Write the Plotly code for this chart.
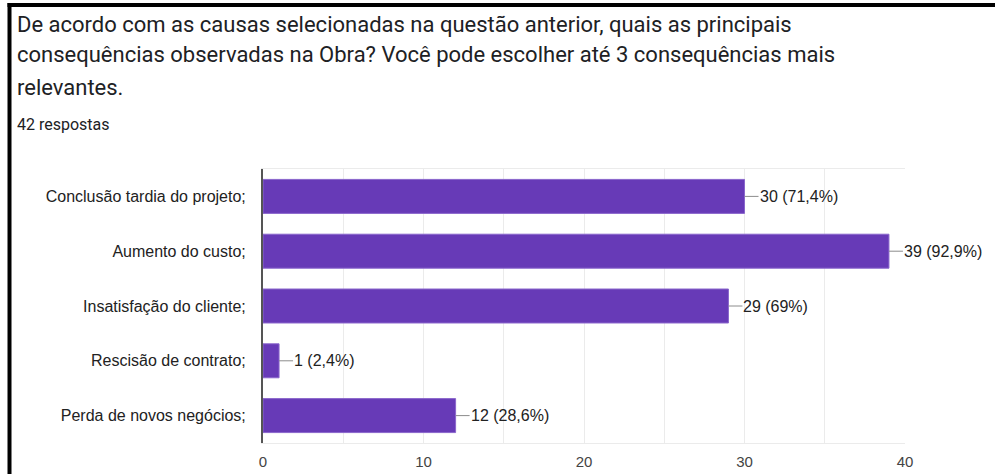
import plotly.graph_objects as go

categories = [
    "Conclusão tardia do projeto;",
    "Aumento do custo;",
    "Insatisfação do cliente;",
    "Rescisão de contrato;",
    "Perda de novos negócios;",
]
counts = [30, 39, 29, 1, 12]
pct_labels = ["71,4%", "92,9%", "69%", "2,4%", "28,6%"]
x_ticks = [0, 10, 20, 30, 40]

title_lines = [
    "De acordo com as causas selecionadas na questão anterior, quais as principais",
    "consequências observadas na Obra? Você pode escolher até 3 consequências mais",
    "relevantes.",
]
subtitle = "42 respostas"

W, H = 995, 474
L, R, T, B = 263, 905, 169, 443  # plot area in pixels


def px(xp):
    return (xp - L) / (R - L)


def py(yp):
    return (B - yp) / (B - T)


fig = go.Figure()
fig.add_trace(go.Bar(
    x=counts, y=categories, orientation="h",
    marker=dict(color="#673ab7", line=dict(color="#8a66cc", width=1)),
    hoverinfo="skip",
))

for c, v, p in zip(categories, counts, pct_labels):
    fig.add_annotation(
        x=v, y=c, xref="x", yref="y",
        text=f"{v} ({p})", showarrow=True, arrowhead=0, arrowwidth=1,
        arrowcolor="#8c8c8c", ax=14, ay=0, xanchor="left", yanchor="middle",
        standoff=0, startstandoff=0, borderpad=0,
        font=dict(family="Liberation Sans, Arial", size=16, color="#222222"),
    )

title_y = [24, 55, 87]
for line, yy in zip(title_lines, title_y):
    fig.add_annotation(
        x=px(15), y=py(yy), xref="paper", yref="paper", text=line,
        showarrow=False, xanchor="left", yanchor="middle",
        font=dict(family="Roboto", size=22, color="#202124"),
    )
fig.add_annotation(
    x=px(15), y=py(124), xref="paper", yref="paper", text=subtitle,
    showarrow=False, xanchor="left", yanchor="middle",
    font=dict(family="Roboto", size=16, color="#202124"),
)

# black frame on left and top
fig.add_shape(type="line", xref="paper", yref="paper",
              x0=px(9.5), x1=px(9.5), y0=py(3), y1=py(480),
              line=dict(color="#000000", width=4))
fig.add_shape(type="line", xref="paper", yref="paper",
              x0=px(7.5), x1=px(1000), y0=py(5), y1=py(5),
              line=dict(color="#000000", width=4))

fig.update_layout(
    width=W, height=H,
    margin=dict(l=L, r=W - R, t=T, b=H - B, pad=0, autoexpand=False),
    paper_bgcolor="white", plot_bgcolor="white",
    showlegend=False, bargap=0.38,
    xaxis=dict(
        range=[0, 40], tickvals=x_ticks, showgrid=True, gridcolor="#ebebeb",
        minor=dict(dtick=5, showgrid=True, gridcolor="#ebebeb"),
        zeroline=False, showline=True, linecolor="#ebebeb", mirror=True,
        automargin=False,
        tickfont=dict(family="Liberation Sans, Arial", size=15, color="#444444"),
        ticks="outside", ticklen=5, tickcolor="rgba(0,0,0,0)",
    ),
    yaxis=dict(
        categoryorder="array", categoryarray=categories[::-1],
        showgrid=False, zeroline=False, showline=True, linecolor="#555555",
        linewidth=2, automargin=False,
        tickfont=dict(family="Liberation Sans, Arial", size=16, color="#222222"),
        ticks="outside", ticklen=12, tickcolor="rgba(0,0,0,0)",
    ),
)

fig.write_html("out.html")
